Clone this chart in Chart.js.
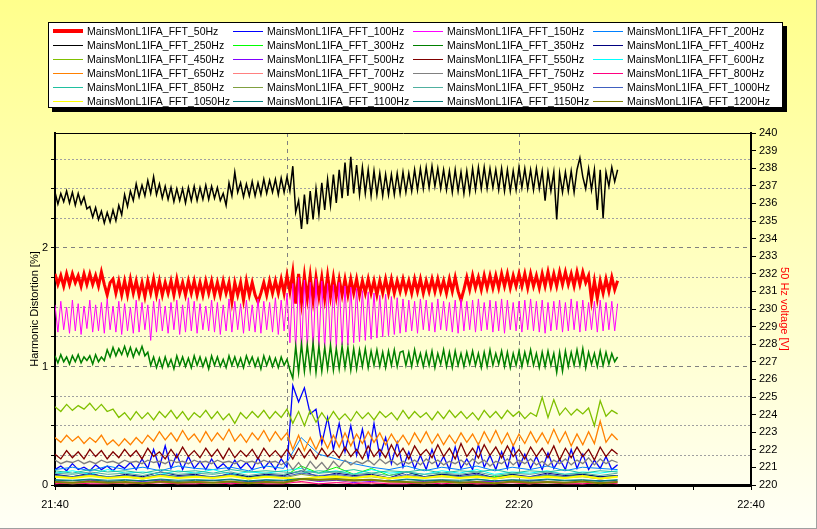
<!DOCTYPE html>
<html>
<head>
<meta charset="utf-8">
<script src="https://cdn.jsdelivr.net/npm/chart.js@4.4.1/dist/chart.umd.min.js"></script>
<style>
  body { margin: 0; }
  #wrap { position: relative; width: 817px; height: 529px; background: linear-gradient(#FFFF8C, #FFFFF6); font-family: "Liberation Sans", Arial, sans-serif; }
  #chart { position: absolute; left: 0; top: 0; }
  #legend { position: absolute; left: 48px; top: 22px; width: 735px; height: 86px; box-sizing: border-box; border: 1px solid #000; background: #fff; box-shadow: 4px 4px 0 #000; }
  .item { position: absolute; height: 14px; width: 178px; font-size: 10.5px; line-height: 14px; color: #000; white-space: nowrap; }
  .item .line { position: absolute; left: 0; width: 30px; }
  .item .txt { position: absolute; left: 34px; top: 0; }
  #frame { position: absolute; left: 0; top: 0; width: 817px; height: 529px; box-sizing: border-box; border-right: 1px solid #a0a0a0; border-bottom: 1px solid #a0a0a0; pointer-events: none; }
</style>
</head>
<body>
<div id="wrap">
  <canvas id="chart" width="817" height="529"></canvas>
  <div id="legend"></div>
  <div id="frame"></div>
</div>
<script>
// logger started at 21:40, last sample at 22:28:30
const startClock = [21, 40];
const spanMinutes = 48.5;

const seriesNames = [
  'MainsMonL1IFA_FFT_50Hz', 'MainsMonL1IFA_FFT_100Hz', 'MainsMonL1IFA_FFT_150Hz', 'MainsMonL1IFA_FFT_200Hz',
  'MainsMonL1IFA_FFT_250Hz', 'MainsMonL1IFA_FFT_300Hz', 'MainsMonL1IFA_FFT_350Hz', 'MainsMonL1IFA_FFT_400Hz',
  'MainsMonL1IFA_FFT_450Hz', 'MainsMonL1IFA_FFT_500Hz', 'MainsMonL1IFA_FFT_550Hz', 'MainsMonL1IFA_FFT_600Hz',
  'MainsMonL1IFA_FFT_650Hz', 'MainsMonL1IFA_FFT_700Hz', 'MainsMonL1IFA_FFT_750Hz', 'MainsMonL1IFA_FFT_800Hz',
  'MainsMonL1IFA_FFT_850Hz', 'MainsMonL1IFA_FFT_900Hz', 'MainsMonL1IFA_FFT_950Hz', 'MainsMonL1IFA_FFT_1000Hz',
  'MainsMonL1IFA_FFT_1050Hz', 'MainsMonL1IFA_FFT_1100Hz', 'MainsMonL1IFA_FFT_1150Hz', 'MainsMonL1IFA_FFT_1200Hz'
];
const seriesColors = [
  '#FF0000', '#0000FF', '#FF00FF', '#0080FF',
  '#000000', '#00FF00', '#008000', '#000080',
  '#80C000', '#8000FF', '#800000', '#00FFFF',
  '#FF8000', '#FF8080', '#808080', '#FF0080',
  '#20C0A0', '#80A040', '#50B0A0', '#4060C0',
  '#FFFF00', '#008080', '#007878', '#808000'
];

// 50 Hz voltage [V], every 15 s
const fft50 = [
  232.0,231.4,231.9,231.3, 232.0,231.4,232.0,231.5, 231.9,231.3,232.0,231.4, 232.0,231.4,231.9,231.3, 232.1,231.4,230.8,231.5,
  231.7,230.9,231.6,230.8, 231.6,230.8,231.7,230.9, 231.6,230.8,231.5,230.7, 231.6,230.9,231.7,230.8, 231.6,230.8,231.5,230.9,
  231.6,230.8,231.7,230.9, 231.5,230.8,231.6,230.9, 231.6,230.8,231.5,230.8, 231.6,230.9,231.6,230.8, 231.5,230.8,231.6,230.9,
  231.5,230.4,231.5,230.8, 231.5,230.5,231.6,230.8, 231.5,230.8,230.4,230.9, 231.5,230.8,231.6,230.9, 231.6,230.9,231.7,230.9,
  231.9,231.0,232.1,230.3, 232.0,230.4,231.9,230.6, 231.9,230.5,231.8,230.7, 231.8,230.6,231.9,230.7, 231.8,230.7,231.7,230.8,
  231.7,230.8,231.7,230.9, 231.7,230.8,231.6,230.9, 231.7,230.9,231.6,230.8, 231.6,230.9,231.7,230.9, 231.7,230.9,231.6,231.0,
  231.7,231.0,231.6,230.9, 231.7,231.0,231.7,230.9, 231.6,231.0,231.7,231.0, 231.7,231.0,231.6,230.9, 231.7,231.0,231.8,231.0,
  230.5,231.1,231.8,231.1, 231.9,231.2,231.8,231.1, 231.9,231.2,231.9,231.2, 231.9,231.2,232.0,231.3, 232.0,231.2,231.9,231.3,
  232.0,231.3,232.0,231.2, 232.0,231.3,231.9,231.2, 232.0,231.3,232.1,231.3, 232.0,231.3,232.1,231.4, 232.1,231.4,232.0,231.3,
  232.1,231.4,232.1,231.5, 231.9,230.5,231.6,230.6, 231.6,230.9,231.7,231.0, 231.8,231.1,231.6];
// harmonic distortion [%]
const fft100 = [0.13,0.16,0.12,0.18,0.13,0.15,0.12,0.17,0.13,0.16,0.12,0.17,0.14,0.19,0.13,0.22,0.14,0.30,0.15,0.33,
  0.14,0.26,0.13,0.24,0.14,0.20,0.13,0.22,0.14,0.18,0.13,0.21,0.14,0.19,0.13,0.23,0.14,0.20,0.13,0.22,
  0.15,0.84,0.70,0.82,0.60,0.64,0.35,0.57,0.30,0.52,0.28,0.50,0.25,0.47,0.22,0.52,0.24,0.40,0.18,0.36,
  0.15,0.28,0.14,0.25,0.13,0.30,0.15,0.24,0.13,0.32,0.14,0.22,0.13,0.34,0.15,0.25,0.13,0.28,0.14,0.33,
  0.15,0.26,0.14,0.24,0.13,0.27,0.14,0.22,0.13,0.30,0.14,0.26,0.13,0.21,0.14,0.24,0.13,0.17];
const fft150 = [
  1.52,1.29,1.55,1.31, 1.50,1.28,1.56,1.30, 1.53,1.27,1.51,1.32, 1.56,1.29,1.52,1.30, 1.54,1.28,1.57,1.31,
  1.51,1.29,1.55,1.27, 1.53,1.30,1.50,1.28, 1.56,1.29,1.54,1.31, 1.52,1.22,1.55,1.29, 1.57,1.30,1.51,1.28,
  1.54,1.31,1.56,1.27, 1.52,1.29,1.58,1.30, 1.55,1.28,1.53,1.31, 1.51,1.30,1.56,1.29, 1.54,1.27,1.52,1.30,
  1.57,1.29,1.55,1.31, 1.53,1.28,1.56,1.30, 1.52,1.29,1.57,1.28, 1.55,1.31,1.54,1.29, 1.58,1.27,1.56,1.30,
  1.62,1.20,1.70,1.14, 1.75,1.12,1.73,1.15, 1.71,1.13,1.74,1.16, 1.72,1.14,1.70,1.17, 1.69,1.15,1.71,1.18,
  1.68,1.18,1.67,1.20, 1.66,1.21,1.64,1.22, 1.63,1.23,1.62,1.24, 1.60,1.25,1.61,1.26, 1.59,1.27,1.58,1.28,
  1.57,1.29,1.56,1.30, 1.55,1.28,1.57,1.31, 1.56,1.30,1.54,1.29, 1.57,1.31,1.55,1.30, 1.54,1.29,1.56,1.28,
  1.57,1.30,1.55,1.31, 1.56,1.29,1.57,1.30, 1.54,1.31,1.56,1.29, 1.55,1.30,1.57,1.28, 1.56,1.31,1.54,1.30,
  1.55,1.29,1.56,1.31, 1.57,1.30,1.55,1.29, 1.56,1.28,1.54,1.30, 1.55,1.31,1.56,1.29, 1.54,1.30,1.57,1.31,
  1.55,1.29,1.56,1.30, 1.54,1.31,1.55,1.29, 1.56,1.30,1.54,1.31, 1.55,1.30,1.53];
const fft250 = [
  2.47,2.37,2.46,2.39, 2.48,2.38,2.47,2.36, 2.46,2.37,2.43,2.33, 2.35,2.26,2.34,2.24, 2.31,2.21,2.30,2.22,
  2.32,2.23,2.36,2.28, 2.45,2.35,2.48,2.40, 2.54,2.43,2.53,2.44, 2.57,2.46,2.60,2.45, 2.54,2.42,2.52,2.41,
  2.51,2.39,2.50,2.40, 2.50,2.38,2.51,2.40, 2.52,2.40,2.51,2.41, 2.53,2.41,2.52,2.42, 2.51,2.40,2.46,2.36,
  2.55,2.44,2.64,2.47, 2.55,2.43,2.54,2.44, 2.56,2.44,2.55,2.45, 2.58,2.46,2.57,2.47, 2.58,2.45,2.59,2.47,
  2.60,2.48,2.69,2.30, 2.40,2.16,2.45,2.20, 2.48,2.24,2.50,2.28, 2.55,2.32,2.58,2.36, 2.62,2.38,2.66,2.42,
  2.72,2.44,2.77,2.46, 2.70,2.45,2.68,2.46, 2.66,2.44,2.65,2.45, 2.63,2.44,2.62,2.45, 2.62,2.45,2.63,2.46,
  2.64,2.47,2.63,2.48, 2.66,2.49,2.67,2.50, 2.68,2.51,2.69,2.52, 2.67,2.50,2.66,2.49, 2.65,2.47,2.66,2.48,
  2.64,2.46,2.65,2.47, 2.67,2.49,2.68,2.50, 2.68,2.50,2.67,2.51, 2.66,2.49,2.67,2.48, 2.66,2.48,2.65,2.49,
  2.68,2.51,2.67,2.50, 2.66,2.49,2.67,2.50, 2.65,2.40,2.64,2.48, 2.64,2.24,2.63,2.47, 2.64,2.48,2.65,2.47,
  2.66,2.76,2.60,2.50, 2.67,2.49,2.66,2.32, 2.66,2.25,2.64,2.52, 2.68,2.56,2.66];
const fft350 = [
  1.09,1.03,1.10,1.04, 1.08,1.02,1.09,1.04, 1.10,1.03,1.08,1.05, 1.09,1.02,1.10,1.04, 1.08,1.05,1.14,1.08,
  1.16,1.09,1.15,1.10, 1.17,1.09,1.16,1.08, 1.15,1.10,1.17,1.09, 1.12,1.01,1.08,0.99, 1.07,0.99,1.08,1.00,
  1.06,0.98,1.09,1.01, 1.08,1.00,1.07,0.99, 1.09,1.01,1.08,1.00, 1.07,0.98,1.09,1.01, 1.08,1.00,1.06,0.99,
  1.09,1.01,1.08,1.00, 1.07,0.99,1.09,1.02, 1.08,1.00,1.07,0.98, 1.09,1.01,1.08,1.00, 1.07,0.99,1.08,1.01,
  1.06,0.97,0.90,1.17, 0.95,1.19,0.96,1.18, 0.97,1.20,0.95,1.17, 0.96,1.16,0.98,1.18, 0.97,1.15,0.98,1.17,
  0.99,1.16,0.97,1.15, 0.98,1.14,1.00,1.15, 0.99,1.13,1.01,1.14, 1.00,1.12,0.99,1.13, 1.01,1.14,1.00,1.12,
  1.13,1.01,1.12,1.00, 1.14,1.02,1.11,1.00, 1.12,1.01,1.13,0.99, 1.11,1.02,1.14,1.00, 1.12,0.99,1.13,1.01,
  1.11,1.00,1.12,1.02, 1.13,1.01,1.11,0.99, 1.12,1.00,1.14,1.01, 1.11,1.02,1.13,1.00, 1.12,0.99,1.11,1.01,
  1.13,1.00,1.12,1.02, 1.14,1.01,1.11,0.99, 1.12,1.00,1.13,1.01, 1.11,0.95,1.12,0.96, 1.13,1.00,1.12,1.01,
  1.14,1.01,1.15,0.99, 1.12,1.02,1.11,1.00, 1.13,1.01,1.12,1.02, 1.11,1.04,1.08];
const fft450 = [0.66,0.62,0.68,0.63,0.67,0.64,0.69,0.63,0.68,0.62,0.64,0.57,0.61,0.55,0.62,0.56,0.61,0.55,0.62,0.57,
  0.63,0.56,0.62,0.55,0.61,0.57,0.63,0.56,0.62,0.55,0.60,0.52,0.61,0.56,0.62,0.57,0.63,0.56,0.62,0.57,
  0.64,0.52,0.62,0.50,0.63,0.53,0.61,0.54,0.62,0.55,0.60,0.54,0.62,0.56,0.61,0.55,0.62,0.57,0.61,0.55,
  0.63,0.56,0.62,0.57,0.61,0.55,0.62,0.56,0.63,0.57,0.62,0.56,0.61,0.55,0.63,0.57,0.62,0.56,0.63,0.58,
  0.62,0.56,0.61,0.58,0.74,0.57,0.72,0.59,0.65,0.59,0.64,0.60,0.65,0.50,0.71,0.58,0.63,0.60];
const fft550 = [0.26,0.22,0.29,0.23,0.28,0.22,0.30,0.24,0.29,0.22,0.28,0.23,0.30,0.24,0.29,0.22,0.31,0.24,0.28,0.22,
  0.30,0.23,0.32,0.24,0.29,0.23,0.31,0.24,0.30,0.22,0.31,0.23,0.29,0.24,0.30,0.22,0.31,0.24,0.29,0.23,
  0.30,0.22,0.31,0.23,0.30,0.22,0.31,0.24,0.29,0.23,0.32,0.24,0.30,0.22,0.33,0.24,0.30,0.23,0.34,0.24,
  0.31,0.22,0.33,0.25,0.30,0.23,0.34,0.24,0.31,0.22,0.35,0.24,0.31,0.23,0.34,0.25,0.32,0.23,0.33,0.24,
  0.30,0.22,0.32,0.24,0.31,0.23,0.33,0.21,0.31,0.23,0.32,0.24,0.30,0.21,0.32,0.24,0.30,0.26];
const fft650 = [0.40,0.36,0.42,0.37,0.41,0.35,0.40,0.36,0.42,0.34,0.38,0.33,0.39,0.34,0.40,0.35,0.42,0.37,0.45,0.38,
  0.44,0.37,0.46,0.38,0.43,0.36,0.45,0.37,0.44,0.38,0.47,0.37,0.43,0.36,0.44,0.38,0.46,0.37,0.45,0.38,
  0.44,0.30,0.42,0.29,0.40,0.30,0.41,0.31,0.42,0.32,0.44,0.33,0.43,0.35,0.45,0.36,0.44,0.34,0.43,0.35,
  0.42,0.34,0.44,0.36,0.45,0.35,0.43,0.34,0.42,0.35,0.44,0.36,0.43,0.34,0.45,0.36,0.46,0.35,0.44,0.33,
  0.43,0.35,0.45,0.36,0.44,0.35,0.47,0.36,0.45,0.33,0.43,0.34,0.45,0.35,0.54,0.36,0.43,0.38];
const fft750 = [0.21,0.18,0.20,0.19,0.21,0.18,0.20,0.18,0.21,0.19,0.20,0.18,0.21,0.19,0.20,0.18,0.21,0.19,0.20,0.18,
  0.21,0.19,0.20,0.18,0.21,0.19,0.20,0.18,0.21,0.19,0.20,0.18,0.21,0.19,0.20,0.18,0.21,0.19,0.20,0.17,
  0.20,0.13,0.19,0.12,0.20,0.14,0.19,0.13,0.20,0.15,0.21,0.17,0.20,0.18,0.21,0.17,0.22,0.18,0.21,0.17,
  0.20,0.18,0.21,0.17,0.22,0.18,0.21,0.17,0.20,0.18,0.21,0.17,0.22,0.18,0.21,0.16,0.20,0.18,0.22,0.17,
  0.21,0.18,0.22,0.17,0.20,0.16,0.21,0.18,0.22,0.17,0.21,0.18,0.23,0.17,0.22,0.18,0.21,0.19];
// weaker harmonics
const fft200 = [0.13,0.15,0.12,0.16,0.13,0.15,0.12,0.16,0.14,0.13,0.15,0.12,0.16,0.14,0.40,0.26,0.22,0.18,0.15,0.13,0.16,0.12,0.15,0.13,0.16,0.12,0.15,0.13,0.16,0.12,0.15,0.14,0.13];
const fft300 = [0.08,0.07,0.09,0.07,0.08,0.06,0.09,0.07,0.08,0.07,0.09,0.07,0.08,0.07,0.16,0.10,0.15,0.09,0.14,0.08,0.11,0.07,0.09,0.07,0.08,0.07,0.09,0.06,0.08,0.07,0.09,0.07,0.08];
const fft400 = [0.09,0.07,0.10,0.06,0.09,0.07,0.11,0.08,0.09,0.06,0.10,0.07,0.09,0.08,0.12,0.07,0.10,0.08,0.09,0.06,0.11,0.07,0.09,0.08,0.10,0.06,0.09,0.07,0.10,0.08,0.09,0.07,0.08];
const fft500 = [0.03,0.02,0.04,0.03,0.02,0.03,0.04,0.02,0.03,0.04,0.02,0.03,0.03,0.02,0.05,0.03,0.04,0.02,0.03,0.04,0.02,0.03,0.04,0.02,0.03,0.03,0.02,0.04,0.03,0.02,0.03,0.04,0.03];
const fft600 = [0.10,0.12,0.09,0.13,0.10,0.11,0.09,0.12,0.10,0.13,0.09,0.11,0.10,0.12,0.14,0.10,0.12,0.09,0.13,0.10,0.11,0.09,0.12,0.10,0.13,0.09,0.11,0.10,0.12,0.09,0.11,0.10,0.12];
const fft700 = [0.02,0.01,0.02,0.03,0.01,0.02,0.02,0.01,0.03,0.02,0.01,0.02,0.02,0.03,0.02,0.01,0.02,0.03,0.01,0.02,0.02,0.01,0.03,0.02,0.01,0.02,0.02,0.01,0.03,0.02,0.01,0.02,0.02];
const fft800 = [0.01,0.02,0.01,0.01,0.02,0.01,0.02,0.01,0.01,0.02,0.01,0.02,0.01,0.01,0.03,0.01,0.02,0.01,0.02,0.01,0.01,0.02,0.01,0.02,0.01,0.01,0.02,0.01,0.02,0.01,0.01,0.02,0.01];
const fft850 = [0.12,0.10,0.13,0.11,0.12,0.10,0.13,0.11,0.12,0.10,0.13,0.11,0.12,0.11,0.10,0.12,0.11,0.13,0.10,0.12,0.11,0.13,0.10,0.12,0.11,0.13,0.10,0.12,0.11,0.13,0.10,0.12,0.11];
const fft900 = [0.07,0.06,0.08,0.06,0.07,0.05,0.08,0.06,0.07,0.06,0.08,0.05,0.07,0.06,0.09,0.07,0.08,0.06,0.07,0.05,0.08,0.06,0.07,0.06,0.08,0.05,0.07,0.06,0.08,0.06,0.07,0.05,0.07];
const fft950 = [0.10,0.09,0.11,0.09,0.10,0.08,0.11,0.09,0.10,0.09,0.11,0.08,0.10,0.09,0.12,0.10,0.11,0.09,0.10,0.08,0.11,0.09,0.10,0.09,0.11,0.08,0.10,0.09,0.11,0.09,0.10,0.08,0.10];
const fft1000 = [0.08,0.07,0.09,0.07,0.08,0.06,0.09,0.07,0.08,0.07,0.09,0.06,0.08,0.07,0.10,0.08,0.09,0.07,0.08,0.06,0.09,0.07,0.08,0.07,0.09,0.06,0.08,0.07,0.09,0.07,0.08,0.06,0.08];
const fft1050 = [0.07,0.06,0.075,0.06,0.07,0.055,0.075,0.06,0.07,0.06,0.075,0.055,0.07,0.06,0.05,0.065,0.07,0.06,0.075,0.055,0.07,0.06,0.075,0.06,0.07,0.055,0.075,0.06,0.07,0.06,0.075,0.055,0.07];
const fft1100 = [0.045,0.04,0.05,0.04,0.045,0.035,0.05,0.04,0.045,0.04,0.05,0.035,0.045,0.04,0.055,0.045,0.05,0.04,0.045,0.035,0.05,0.04,0.045,0.04,0.05,0.035,0.045,0.04,0.05,0.04,0.045,0.035,0.045];
const fft1150 = [0.04,0.035,0.045,0.03,0.04,0.035,0.045,0.03,0.04,0.035,0.045,0.03,0.04,0.035,0.05,0.04,0.045,0.035,0.04,0.03,0.045,0.035,0.04,0.03,0.045,0.035,0.04,0.03,0.045,0.035,0.04,0.03,0.04];
const fft1200 = [0.025,0.02,0.03,0.02,0.025,0.015,0.03,0.02,0.025,0.02,0.03,0.015,0.025,0.02,0.05,0.045,0.05,0.04,0.045,0.03,0.025,0.02,0.03,0.02,0.025,0.015,0.03,0.02,0.025,0.02,0.03,0.015,0.025];

const seriesValues = [fft50, fft100, fft150, fft200, fft250, fft300, fft350, fft400, fft450, fft500, fft550, fft600,
  fft650, fft700, fft750, fft800, fft850, fft900, fft950, fft1000, fft1050, fft1100, fft1150, fft1200];

// axis ticks
const xTicks = [0, 5, 10, 15, 20, 25, 30, 35, 40, 45, 50, 55, 60];
const xLabelTicks = [0, 20, 40, 60];
const leftMinorTicks = [0.25, 0.5, 0.75, 1.25, 1.5, 1.75, 2.25, 2.5, 2.75];
const leftMajorTicks = [0, 1, 2];
const rightTicks = [220, 221, 222, 223, 224, 225, 226, 227, 228, 229, 230, 231, 232, 233, 234, 235, 236, 237, 238, 239, 240];

function clock(min) {
  const t = startClock[0] * 60 + startClock[1] + min;
  return Math.floor(t / 60) + ':' + String(t % 60).padStart(2, '0');
}
const setTicks = (vals) => (s) => { s.ticks = vals.map((v) => ({ value: v })); };

// red voltage trace is drawn heavier, the dense bands a little thicker
const widthOf = (i) => {
  if (i === 0) return 3;
  if (i === 4 || i === 6) return 1.5;
  if (i === 20 || i === 23) return 2;
  if (i === 1 || i === 8 || i === 10 || i === 12 || i === 14) return 1.3;
  return 1;
};

const datasets = seriesValues.map((vals, i) => ({
  label: seriesNames[i],
  data: vals.map((v, k) => ({ x: k * spanMinutes / (vals.length - 1), y: v })),
  borderColor: seriesColors[i],
  backgroundColor: seriesColors[i],
  borderWidth: widthOf(i),
  pointRadius: 0,
  tension: 0,
  yAxisID: i === 0 ? 'y1' : 'y',
  order: seriesValues.length - i
}));

// legend box, 4 columns x 6 rows
const legend = document.getElementById('legend');
seriesNames.forEach((name, i) => {
  const el = document.createElement('div');
  el.className = 'item';
  el.style.left = (4 + (i % 4) * 180) + 'px';
  el.style.top = (1 + Math.floor(i / 4) * 14) + 'px';
  const line = document.createElement('div');
  line.className = 'line';
  line.style.height = (i === 0 ? 4 : 1) + 'px';
  line.style.top = (i === 0 ? 5 : 7) + 'px';
  line.style.background = seriesColors[i];
  const txt = document.createElement('div');
  txt.className = 'txt';
  txt.textContent = name;
  el.appendChild(line);
  el.appendChild(txt);
  legend.appendChild(el);
});

const font = { family: '"Liberation Sans", Arial, sans-serif', size: 11 };
const clear = 'rgba(0,0,0,0)';

new Chart(document.getElementById('chart').getContext('2d'), {
  type: 'line',
  data: { datasets: datasets },
  options: {
    responsive: false,
    animation: false,
    parsing: false,
    layout: { padding: { left: 24, right: 22, top: 133, bottom: 0 } },
    plugins: { legend: { display: false }, tooltip: { enabled: false } },
    scales: {
      x: {
        type: 'linear', min: 0, max: 60,
        afterBuildTicks: setTicks(xTicks),
        ticks: {
          autoSkip: false, maxRotation: 0, color: '#000', font: font, padding: 8,
          callback: (v) => xLabelTicks.includes(v) ? clock(v) : ''
        },
        grid: {
          color: (c) => (c.tick && (c.tick.value === 20 || c.tick.value === 40)) ? '#808080' : clear,
          tickColor: '#000', tickLength: 5
        },
        border: { color: '#000', width: 3, dash: [4, 4] },
        afterFit: (s) => { s.height = 44; }
      },
      xTop: {
        type: 'linear', position: 'top', min: 0, max: 60,
        ticks: { display: false },
        grid: { display: false },
        border: { color: '#000', width: 1 },
        afterFit: (s) => { s.height = 0; }
      },
      y: {
        type: 'linear', position: 'left', min: 0, max: 2.97,
        afterBuildTicks: setTicks(leftMajorTicks.concat(leftMinorTicks)),
        ticks: {
          autoSkip: false, color: '#000', font: font, padding: 3,
          callback: (v) => leftMajorTicks.includes(v) ? String(v) : ''
        },
        grid: {
          color: (c) => (c.tick && leftMinorTicks.includes(c.tick.value)) ? '#A0A0A0' : clear,
          tickColor: '#000', tickLength: 4
        },
        border: { color: '#000', width: 2, dash: [2, 2] },
        title: { display: true, text: 'Harmonic Distortion [%]', color: '#000', font: font, padding: 4 },
        afterFit: (s) => { s.width = 31; }
      },
      yMajor: {
        type: 'linear', position: 'left', min: 0, max: 2.97,
        afterBuildTicks: setTicks(leftMajorTicks),
        ticks: { display: false },
        grid: { color: '#808080', drawTicks: false },
        border: { display: false, dash: [4, 4] },
        afterFit: (s) => { s.width = 0; }
      },
      y1: {
        type: 'linear', position: 'right', min: 220, max: 240,
        afterBuildTicks: setTicks(rightTicks),
        ticks: { autoSkip: false, color: '#000', font: font, padding: 3 },
        grid: { drawOnChartArea: false, tickColor: '#000', tickLength: 5 },
        border: { color: '#000', width: 2 },
        title: { display: true, text: '50 Hz voltage [V]', color: '#FF0000', font: font, padding: 4 },
        afterFit: (s) => { s.width = 44; }
      }
    }
  }
});
</script>
</body>
</html>
